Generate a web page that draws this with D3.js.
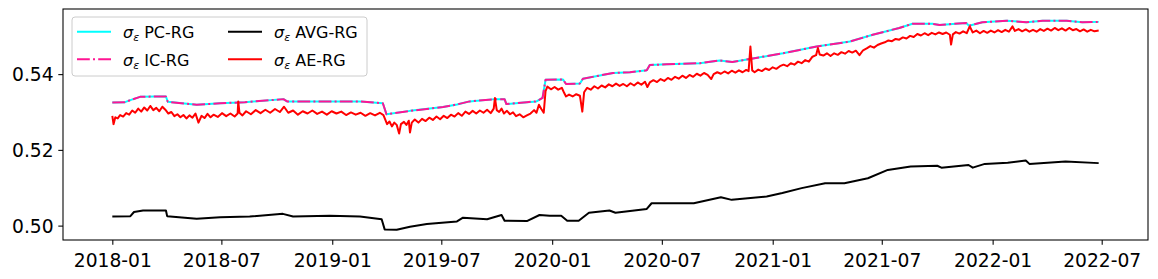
<!DOCTYPE html>
<html>
<head>
<meta charset="utf-8">
<script src="https://cdn.jsdelivr.net/npm/d3@7"></script>
<style>
  html, body { margin: 0; padding: 0; background: #fff; }
  svg { display: block; font-family: "DejaVu Sans", sans-serif; }
</style>
</head>
<body>
<div id="chart"></div>
<script>
// days counted from 2018-01-01
const startDay = Date.UTC(2018, 0, 1);

// sigma_eps PC-RG
const pcDay = [0, 21, 31, 46, 71, 89, 92, 140, 179, 220, 284, 290, 369, 411, 449, 455, 494, 549, 572, 593,
  635, 651, 654, 688, 704, 714, 719, 748, 753, 776, 781, 831, 859, 887, 892, 920, 975, 1008, 1029, 1058,
  1113, 1169, 1224, 1262, 1306, 1328, 1361, 1373, 1417, 1422, 1444, 1484, 1517, 1544, 1584, 1610, 1637];
const pcVal = [0.5325, 0.5326, 0.5332, 0.5340, 0.5341, 0.5341, 0.5327, 0.5319, 0.5323, 0.5326, 0.5334, 0.5328,
  0.5328, 0.5328, 0.5323, 0.5294, 0.5303, 0.5313, 0.5320, 0.5328, 0.5334, 0.5334, 0.5321, 0.5326, 0.5328,
  0.5337, 0.5385, 0.5386, 0.5374, 0.5375, 0.5388, 0.5403, 0.5405, 0.5410, 0.5424, 0.5426, 0.5429, 0.5436,
  0.5432, 0.5440, 0.5455, 0.5473, 0.5486, 0.5504, 0.5522, 0.5533, 0.5533, 0.5530, 0.5535, 0.5528, 0.5537,
  0.5541, 0.5537, 0.5541, 0.5541, 0.5537, 0.5538];

// sigma_eps IC-RG (sits on top of PC-RG)
const icDay = pcDay;
const icVal = [0.5325, 0.5326, 0.5332, 0.5340, 0.5341, 0.5341, 0.5327, 0.5319, 0.5323, 0.5326, 0.5334, 0.5328,
  0.5328, 0.5328, 0.5323, 0.5294, 0.5303, 0.5313, 0.5320, 0.5328, 0.5334, 0.5334, 0.5321, 0.5326, 0.5328,
  0.5337, 0.5385, 0.5386, 0.5374, 0.5375, 0.5388, 0.5403, 0.5405, 0.5410, 0.5424, 0.5426, 0.5429, 0.5436,
  0.5432, 0.5440, 0.5455, 0.5473, 0.5486, 0.5504, 0.5522, 0.5533, 0.5533, 0.5530, 0.5535, 0.5528, 0.5537,
  0.5541, 0.5537, 0.5541, 0.5541, 0.5537, 0.5538];

// sigma_eps AVG-RG
const avgDay = [0, 30, 36, 51, 89, 91, 140, 179, 228, 283, 300, 361, 411, 447, 452, 472, 494, 522, 572, 582,
  622, 646, 651, 688, 709, 726, 745, 755, 774, 791, 825, 835, 887, 895, 965, 1010, 1028, 1086, 1112, 1144,
  1183, 1215, 1254, 1287, 1325, 1369, 1376, 1421, 1428, 1448, 1486, 1516, 1522, 1582, 1637];
const avgVal = [0.5024, 0.5025, 0.5036, 0.5040, 0.5040, 0.5025, 0.5018, 0.5022, 0.5024, 0.5031, 0.5024, 0.5026,
  0.5024, 0.5017, 0.4990, 0.4989, 0.4997, 0.5004, 0.5011, 0.5021, 0.5017, 0.5028, 0.5013, 0.5012, 0.5028,
  0.5026, 0.5026, 0.5013, 0.5013, 0.5034, 0.5040, 0.5034, 0.5044, 0.5059, 0.5059, 0.5075, 0.5068, 0.5077,
  0.5086, 0.5099, 0.5112, 0.5112, 0.5125, 0.5147, 0.5156, 0.5158, 0.5153, 0.5160, 0.5153, 0.5163, 0.5166,
  0.5172, 0.5163, 0.5169, 0.5165];

// sigma_eps AE-RG
const aeDay = [0, 2, 5, 9, 13, 18, 23, 28, 33, 38, 43, 48, 53, 58, 63, 68, 73, 78, 83, 88, 93, 98, 103, 108,
  113, 118, 123, 128, 133, 138, 143, 148, 153, 158, 163, 168, 175, 182, 189, 196, 203, 208, 209, 211, 216,
  222, 230, 238, 246, 254, 262, 270, 278, 285, 292, 300, 308, 316, 324, 332, 340, 348, 356, 364, 372, 380,
  388, 396, 404, 412, 420, 428, 436, 444, 450, 453, 456, 460, 464, 468, 472, 476, 479, 484, 488, 492, 494,
  497, 502, 508, 514, 520, 526, 532, 538, 544, 550, 556, 562, 568, 574, 580, 586, 592, 598, 604, 610, 616,
  622, 628, 633, 635, 638, 642, 646, 650, 655, 660, 665, 670, 676, 682, 688, 694, 700, 704, 708, 712, 716,
  719, 722, 728, 734, 740, 746, 750, 753, 758, 764, 770, 776, 780, 783, 788, 794, 800, 806, 812, 818, 824,
  830, 836, 842, 848, 854, 860, 866, 872, 878, 884, 888, 892, 898, 904, 910, 916, 922, 928, 934, 940, 946,
  952, 958, 964, 970, 976, 982, 988, 994, 998, 1004, 1010, 1016, 1022, 1028, 1034, 1040, 1046, 1052, 1056,
  1059, 1062, 1066, 1072, 1078, 1084, 1090, 1096, 1102, 1108, 1114, 1120, 1126, 1132, 1138, 1144, 1150,
  1156, 1162, 1168, 1171, 1174, 1180, 1186, 1192, 1198, 1204, 1210, 1216, 1222, 1228, 1234, 1240, 1246,
  1252, 1258, 1264, 1270, 1276, 1282, 1288, 1294, 1300, 1306, 1312, 1318, 1324, 1330, 1336, 1342, 1348,
  1354, 1360, 1366, 1372, 1378, 1384, 1390, 1392, 1395, 1400, 1406, 1412, 1418, 1423, 1428, 1434, 1440,
  1446, 1452, 1458, 1464, 1470, 1476, 1482, 1488, 1494, 1498, 1504, 1510, 1516, 1522, 1528, 1534, 1540,
  1546, 1552, 1558, 1564, 1570, 1576, 1582, 1588, 1594, 1600, 1606, 1612, 1618, 1624, 1630, 1637];
const aeVal = [0.5290, 0.5268, 0.5286, 0.5283, 0.5292, 0.5288, 0.5297, 0.5293, 0.5304, 0.5298, 0.5309, 0.5301,
  0.5312, 0.5304, 0.5316, 0.5305, 0.5311, 0.5302, 0.5314, 0.5306, 0.5296, 0.5300, 0.5289, 0.5294, 0.5286,
  0.5292, 0.5283, 0.5291, 0.5285, 0.5296, 0.5272, 0.5290, 0.5284, 0.5295, 0.5286, 0.5293, 0.5287, 0.5297,
  0.5289, 0.5296, 0.5288, 0.5296, 0.5328, 0.5298, 0.5291, 0.5302, 0.5294, 0.5305, 0.5297, 0.5306, 0.5298,
  0.5308, 0.5300, 0.5314, 0.5298, 0.5304, 0.5293, 0.5302, 0.5296, 0.5304, 0.5295, 0.5301, 0.5293, 0.5302,
  0.5296, 0.5301, 0.5292, 0.5299, 0.5293, 0.5298, 0.5290, 0.5297, 0.5291, 0.5298, 0.5292, 0.5280, 0.5268,
  0.5275, 0.5262, 0.5272, 0.5266, 0.5243, 0.5268, 0.5274, 0.5266, 0.5277, 0.5246, 0.5272, 0.5280, 0.5272,
  0.5282, 0.5276, 0.5285, 0.5279, 0.5288, 0.5281, 0.5290, 0.5284, 0.5293, 0.5288, 0.5297, 0.5290, 0.5301,
  0.5295, 0.5303, 0.5296, 0.5304, 0.5298, 0.5306, 0.5297, 0.5309, 0.5337, 0.5305, 0.5300, 0.5309, 0.5296,
  0.5303, 0.5294, 0.5299, 0.5289, 0.5294, 0.5286, 0.5291, 0.5296, 0.5305, 0.5298, 0.5319, 0.5308, 0.5298,
  0.5355, 0.5367, 0.5360, 0.5366, 0.5359, 0.5364, 0.5350, 0.5341, 0.5346, 0.5341, 0.5347, 0.5343, 0.5301,
  0.5352, 0.5364, 0.5359, 0.5368, 0.5362, 0.5370, 0.5365, 0.5373, 0.5368, 0.5375, 0.5369, 0.5374, 0.5368,
  0.5376, 0.5370, 0.5378, 0.5372, 0.5380, 0.5366, 0.5378, 0.5384, 0.5379, 0.5387, 0.5382, 0.5390, 0.5385,
  0.5393, 0.5388, 0.5396, 0.5390, 0.5398, 0.5393, 0.5401, 0.5396, 0.5403, 0.5398, 0.5387, 0.5400, 0.5405,
  0.5401, 0.5407, 0.5402, 0.5409, 0.5404, 0.5410, 0.5405, 0.5411, 0.5408, 0.5473, 0.5410, 0.5405, 0.5412,
  0.5408, 0.5415, 0.5411, 0.5418, 0.5414, 0.5421, 0.5425, 0.5421, 0.5429, 0.5425, 0.5433, 0.5429, 0.5437,
  0.5433, 0.5446, 0.5450, 0.5469, 0.5452, 0.5449, 0.5455, 0.5448, 0.5455, 0.5451, 0.5458, 0.5454, 0.5461,
  0.5457, 0.5462, 0.5450, 0.5463, 0.5468, 0.5474, 0.5470, 0.5477, 0.5481, 0.5484, 0.5489, 0.5487, 0.5493,
  0.5491, 0.5497, 0.5494, 0.5501, 0.5498, 0.5506, 0.5502, 0.5508, 0.5503, 0.5509, 0.5505, 0.5510, 0.5506,
  0.5510, 0.5504, 0.5478, 0.5505, 0.5511, 0.5507, 0.5513, 0.5508, 0.5526, 0.5510, 0.5515, 0.5508, 0.5514,
  0.5509, 0.5515, 0.5510, 0.5516, 0.5511, 0.5517, 0.5512, 0.5526, 0.5514, 0.5519, 0.5513, 0.5518, 0.5512,
  0.5517, 0.5512, 0.5519, 0.5514, 0.5520, 0.5515, 0.5522, 0.5516, 0.5521, 0.5515, 0.5522, 0.5516, 0.5519,
  0.5513, 0.5518, 0.5512, 0.5517, 0.5513, 0.5515];

const seriesNames = ["PC-RG", "IC-RG", "AVG-RG", "AE-RG"];
const yTicks = [0.50, 0.52, 0.54];
const yLimits = [0.4962, 0.5572];

// layout
const width = 1158, height = 279;
const margin = { top: 9, right: 10, bottom: 39, left: 63 };
const plotW = width - margin.left - margin.right;
const plotH = height - margin.top - margin.bottom;
const tickLen = 4.7;

const toDate = d => new Date(startDay + d * 864e5);

const series = [
  { name: seriesNames[0], day: pcDay, val: pcVal, color: "#00ffff", dash: null },
  { name: seriesNames[1], day: icDay, val: icVal, color: "#ff1493", dash: "12.8,3.2,2,3.2" },
  { name: seriesNames[2], day: avgDay, val: avgVal, color: "#000000", dash: null },
  { name: seriesNames[3], day: aeDay, val: aeVal, color: "#ff0000", dash: null }
];

const svg = d3.select("#chart").append("svg")
  .attr("width", width)
  .attr("height", height);

const g = svg.append("g")
  .attr("transform", `translate(${margin.left},${margin.top})`);

// x scale with matplotlib-like 5% margin
const allDays = series.flatMap(s => s.day);
const dMin = d3.min(allDays), dMax = d3.max(allDays);
const pad = (dMax - dMin) * 0.05;
const x = d3.scaleUtc()
  .domain([toDate(dMin - pad), toDate(dMax + pad)])
  .range([0, plotW]);

const y = d3.scaleLinear()
  .domain(yLimits)
  .range([plotH, 0]);

const xTicks = d3.utcMonth.every(6).range(toDate(0), toDate(1643));

const xAxis = g.append("g")
  .attr("transform", `translate(0,${plotH})`)
  .call(d3.axisBottom(x).tickValues(xTicks).tickFormat(d3.utcFormat("%Y-%m"))
    .tickSize(tickLen).tickSizeOuter(0));
xAxis.select(".domain").remove();
xAxis.selectAll("text")
  .attr("y", 26.7).attr("dy", 0)
  .attr("font-size", "18.7px").attr("font-family", "DejaVu Sans").attr("fill", "#000");
xAxis.selectAll("line").attr("stroke-width", 1.07);

const yAxis = g.append("g")
  .call(d3.axisLeft(y).tickValues(yTicks).tickFormat(d3.format(".2f"))
    .tickSize(tickLen).tickPadding(4.7).tickSizeOuter(0));
yAxis.select(".domain").remove();
yAxis.selectAll("text")
  .attr("dy", "0.36em")
  .attr("font-size", "18.7px").attr("font-family", "DejaVu Sans").attr("fill", "#000");
yAxis.selectAll("line").attr("stroke-width", 1.07);

// lines
const line = d3.line()
  .x(d => x(toDate(d[0])))
  .y(d => y(d[1]));

series.forEach(s => {
  const pts = s.day.map((d, i) => [d, s.val[i]]);
  g.append("path")
    .datum(pts)
    .attr("fill", "none")
    .attr("stroke", s.color)
    .attr("stroke-width", 2)
    .attr("stroke-linejoin", "round")
    .attr("stroke-dasharray", s.dash)
    .attr("d", line);
});

// frame
g.append("rect")
  .attr("x", 0).attr("y", 0)
  .attr("width", plotW).attr("height", plotH)
  .attr("fill", "none")
  .attr("stroke", "#000")
  .attr("stroke-width", 1.07);

// legend
const legend = g.append("g").attr("transform", "translate(9,8)");
legend.append("rect")
  .attr("width", 295).attr("height", 59)
  .attr("rx", 3)
  .attr("fill", "#fff").attr("fill-opacity", 0.8)
  .attr("stroke", "#cccccc").attr("stroke-width", 1);

const legendPos = [[5, 14.7], [5, 42.3], [156, 14.7], [156, 42.3]];
series.forEach((s, i) => {
  const [lx, ly] = legendPos[i];
  legend.append("line")
    .attr("x1", lx).attr("x2", lx + 34)
    .attr("y1", ly).attr("y2", ly)
    .attr("stroke", s.color).attr("stroke-width", 2)
    .attr("stroke-dasharray", s.dash);
  const t = legend.append("text")
    .attr("x", lx + 46).attr("y", ly + 6.2)
    .attr("font-size", "16px").attr("fill", "#000");
  t.append("tspan").attr("font-style", "italic").text("σ");
  t.append("tspan").attr("font-style", "italic").attr("font-size", "11px").attr("dy", 3).text("ε");
  t.append("tspan").attr("dy", -3).text("\u00a0" + s.name);
});
</script>
</body>
</html>
